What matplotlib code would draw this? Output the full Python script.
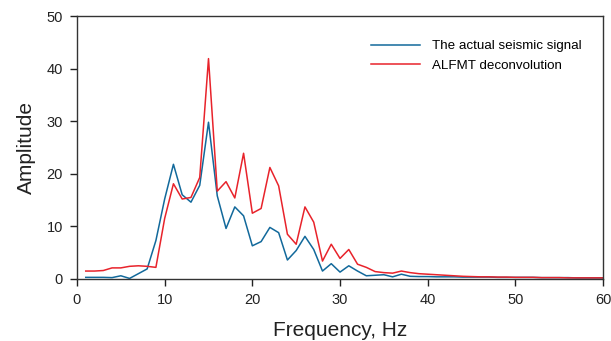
import matplotlib
matplotlib.use("Agg")
import matplotlib.pyplot as plt
import numpy as np

plt.rcParams["font.family"] = ["Liberation Sans", "DejaVu Sans"]

freq = np.arange(1, 61)
actual = [0.3, 0.3, 0.3, 0.25, 0.6, 0.1, 1.0, 1.9, 7.3, 15.2,
          21.8, 16.0, 14.6, 17.8, 29.8, 15.8, 9.6, 13.7, 12.0, 6.3,
          7.1, 9.8, 8.8, 3.6, 5.4, 8.1, 5.6, 1.5, 2.9, 1.3,
          2.5, 1.5, 0.6, 0.7, 0.8, 0.4, 0.9, 0.5, 0.45, 0.45,
          0.4, 0.4, 0.4, 0.35, 0.35, 0.35, 0.35, 0.3, 0.3, 0.3,
          0.3, 0.3, 0.25, 0.25, 0.25, 0.25, 0.2, 0.2, 0.2, 0.2]
alfmt = [1.5, 1.5, 1.6, 2.1, 2.1, 2.4, 2.5, 2.4, 2.2, 11.5,
         18.1, 15.2, 15.5, 19.3, 41.9, 16.7, 18.5, 15.4, 23.9, 12.5,
         13.4, 21.2, 17.7, 8.5, 6.6, 13.7, 10.8, 3.4, 6.6, 3.9,
         5.6, 2.8, 2.2, 1.4, 1.2, 1.1, 1.5, 1.2, 1.0, 0.9,
         0.8, 0.7, 0.6, 0.5, 0.45, 0.4, 0.4, 0.35, 0.35, 0.3,
         0.3, 0.3, 0.25, 0.25, 0.25, 0.2, 0.2, 0.2, 0.2, 0.2]

fig = plt.figure(figsize=(6.11, 3.41), dpi=100)
ax = fig.add_axes([0.126, 0.182, 0.861, 0.771])

ax.plot(freq, actual, color='#12699b', lw=1.1, label='The actual seismic signal')
ax.plot(freq, alfmt, color='#e8232b', lw=1.1, label='ALFMT deconvolution')

ax.set_xlim(0, 60)
ax.set_ylim(0, 50)
ax.set_xticks(np.arange(0, 61, 10))
ax.set_yticks(np.arange(0, 51, 10))
ax.tick_params(direction='out', length=5, width=1, labelsize=10.5, colors='#222222', pad=5)
for s in ax.spines.values():
    s.set_color('#333333')
    s.set_linewidth(1)

ax.set_xlabel('Frequency, Hz', fontsize=15, labelpad=10, color='#222222')
ax.set_ylabel('Amplitude', fontsize=15, labelpad=8, color='#222222')

ax.legend(loc='upper right', bbox_to_anchor=(0.983, 0.955), frameon=False,
          fontsize=9.6, handlelength=3.7, handletextpad=0.9, labelspacing=0.55)

fig.savefig('out.png', dpi=100)
